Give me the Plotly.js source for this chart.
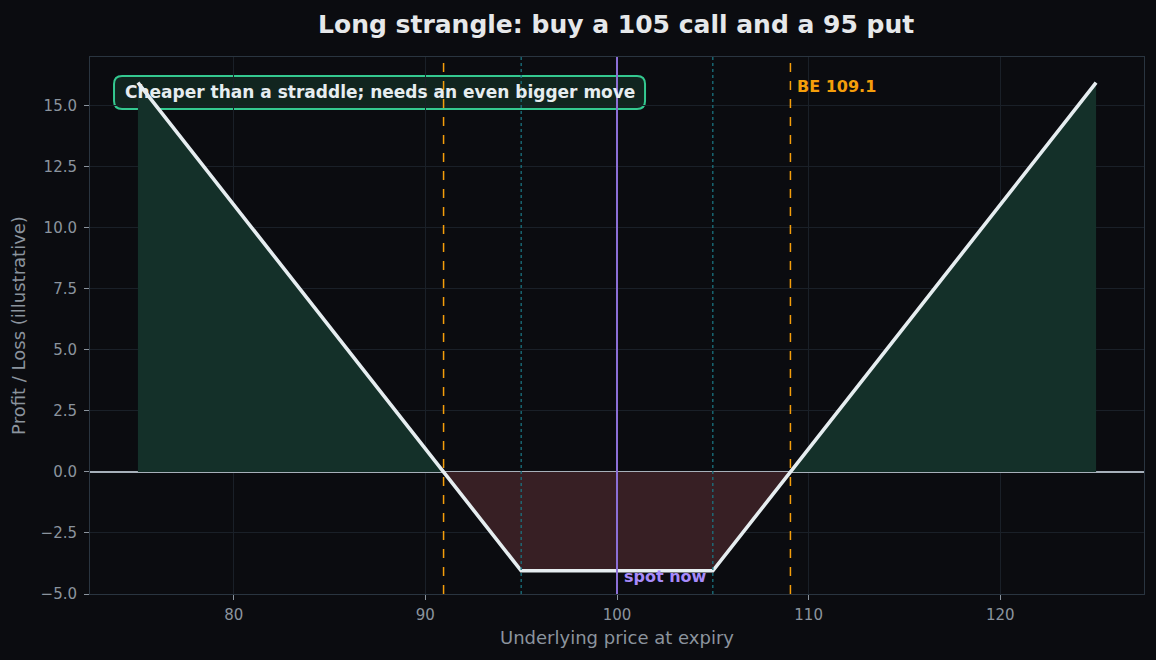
<!DOCTYPE html>
<html><head><meta charset="utf-8">
<script src="https://cdn.plot.ly/plotly-3.0.1.min.js"></script>
<style>html,body{margin:0;padding:0;background:#0b0c10;}#chart{width:1156px;height:660px;}</style>
</head><body><div id="chart"></div>
<script>
// Payoff path of the long strangle (kinks at the strikes)
const priceX = [75, 95, 105, 125];
const payoffY = [15.95, -4.05, -4.05, 15.95];
// Profit / loss regions (split at break-evens)
const leftProfitX = [75, 90.95];
const leftProfitY = [15.95, 0];
const lossX = [90.95, 95, 105, 109.05];
const lossY = [0, -4.05, -4.05, 0];
const rightProfitX = [109.05, 125];
const rightProfitY = [0, 15.95];
// Reference levels
const breakEvens = [90.95, 109.05];
const strikes = [95, 105];
const spot = 100;
const beLabel = "BE 109.1";
const beLabelPos = [109.3, 15.8];
const spotLabel = "spot now";
const spotLabelPos = [100.25, -4.3];
const noteText = "Cheaper than a straddle; needs an even bigger move";
const xTicks = [80, 90, 100, 110, 120];
const yTicks = [-5, -2.5, 0, 2.5, 5, 7.5, 10, 12.5, 15];
const yTickText = ["\u22125.0", "\u22122.5", "0.0", "2.5", "5.0", "7.5", "10.0", "12.5", "15.0"];

const font = "DejaVu Sans, sans-serif";
const traces = [
  {x: leftProfitX, y: leftProfitY, type: 'scatter', mode: 'lines', fill: 'tozeroy',
   fillcolor: 'rgba(20,48,41,1)', line: {color: 'rgba(30,85,66,0.7)', width: 1}, hoverinfo: 'skip'},
  {x: rightProfitX, y: rightProfitY, type: 'scatter', mode: 'lines', fill: 'tozeroy',
   fillcolor: 'rgba(20,48,41,1)', line: {color: 'rgba(30,85,66,0.7)', width: 1}, hoverinfo: 'skip'},
  {x: lossX, y: lossY, type: 'scatter', mode: 'lines', fill: 'tozeroy',
   fillcolor: 'rgba(55,31,36,1)', line: {color: 'rgba(0,0,0,0)', width: 0}, hoverinfo: 'skip'},
  {x: priceX, y: payoffY, type: 'scatter', mode: 'lines',
   line: {color: '#e6edf0', width: 3.6}}
];

const shapes = [];
breakEvens.forEach(b => shapes.push({type: 'line', xref: 'x', yref: 'paper', x0: b, x1: b, y0: 0, y1: 1,
  line: {color: '#f59e0b', width: 1.5, dash: 'dash'}}));
strikes.forEach(s => shapes.push({type: 'line', xref: 'x', yref: 'paper', x0: s, x1: s, y0: 0, y1: 1,
  line: {color: '#1b7380', width: 1.3, dash: 'dot'}}));
shapes.push({type: 'line', xref: 'x', yref: 'paper', x0: spot, x1: spot, y0: 0, y1: 1,
  line: {color: '#8b6fd6', width: 2}});

// rounded note box (paper coordinates)
const bx0 = 0.0228, bx1 = 0.5266, by0 = 0.9032, by1 = 0.9646;
const rx = 8 / 1054, ry = 8 / 537;
const boxPath = `M ${bx0 + rx},${by0} L ${bx1 - rx},${by0} Q ${bx1},${by0} ${bx1},${by0 + ry} ` +
  `L ${bx1},${by1 - ry} Q ${bx1},${by1} ${bx1 - rx},${by1} L ${bx0 + rx},${by1} Q ${bx0},${by1} ${bx0},${by1 - ry} ` +
  `L ${bx0},${by0 + ry} Q ${bx0},${by0} ${bx0 + rx},${by0} Z`;
shapes.push({type: 'path', xref: 'paper', yref: 'paper', path: boxPath, layer: 'between',
  fillcolor: '#11251f', line: {color: '#34c990', width: 2}});

const layout = {
  width: 1156, height: 660,
  paper_bgcolor: '#0b0c10', plot_bgcolor: '#0b0c10',
  margin: {l: 90, r: 12, t: 57, b: 66},
  showlegend: false,
  font: {family: font, color: '#8b949e', size: 15},
  title: {text: '<b>Long strangle: buy a 105 call and a 95 put</b>', x: 0.533, xanchor: 'center', y: 0.963, yanchor: 'middle',
    font: {family: font, size: 25, color: '#e6e8ea'}},
  xaxis: {range: [72.5, 127.5], tickvals: xTicks, ticktext: xTicks.map(String),
    showgrid: true, gridcolor: '#1a2028', gridwidth: 1, zeroline: false,
    showline: true, linecolor: '#2a3540', linewidth: 1, mirror: true,
    ticks: 'outside', ticklen: 5, tickcolor: '#8b949e', tickfont: {size: 15, color: '#8b949e'},
    ticklabelstandoff: 2,
    title: {text: 'Underlying price at expiry', font: {size: 18, color: '#8b949e'}, standoff: 8}},
  yaxis: {range: [-5, 17], tickvals: yTicks, ticktext: yTickText,
    showgrid: true, gridcolor: '#1a2028', gridwidth: 1,
    zeroline: true, zerolinecolor: '#a7b0ba', zerolinewidth: 1.8,
    showline: true, linecolor: '#2a3540', linewidth: 1, mirror: true,
    ticks: 'outside', ticklen: 5, tickcolor: '#8b949e', tickfont: {size: 15, color: '#8b949e'},
    ticklabelstandoff: 4,
    title: {text: 'Profit / Loss (illustrative)', font: {size: 18, color: '#8b949e'}, standoff: 10}},
  shapes: shapes,
  annotations: [
    {x: beLabelPos[0], y: beLabelPos[1], xref: 'x', yref: 'y', text: '<b>' + beLabel + '</b>', showarrow: false,
     xanchor: 'left', yanchor: 'middle', font: {family: font, size: 16, color: '#f59e0b'}},
    {x: spotLabelPos[0], y: spotLabelPos[1], xref: 'x', yref: 'y', text: '<b>' + spotLabel + '</b>', showarrow: false,
     xanchor: 'left', yanchor: 'middle', font: {family: font, size: 16, color: '#a78bfa'}},
    {x: (bx0 + bx1) / 2, y: (by0 + by1) / 2, xref: 'paper', yref: 'paper', text: '<b>' + noteText + '</b>', showarrow: false,
     xanchor: 'center', yanchor: 'middle', font: {family: font, size: 17, color: '#e6edf0'}}
  ]
};
Plotly.newPlot('chart', traces, layout, {displayModeBar: false, staticPlot: true});
</script></body></html>
